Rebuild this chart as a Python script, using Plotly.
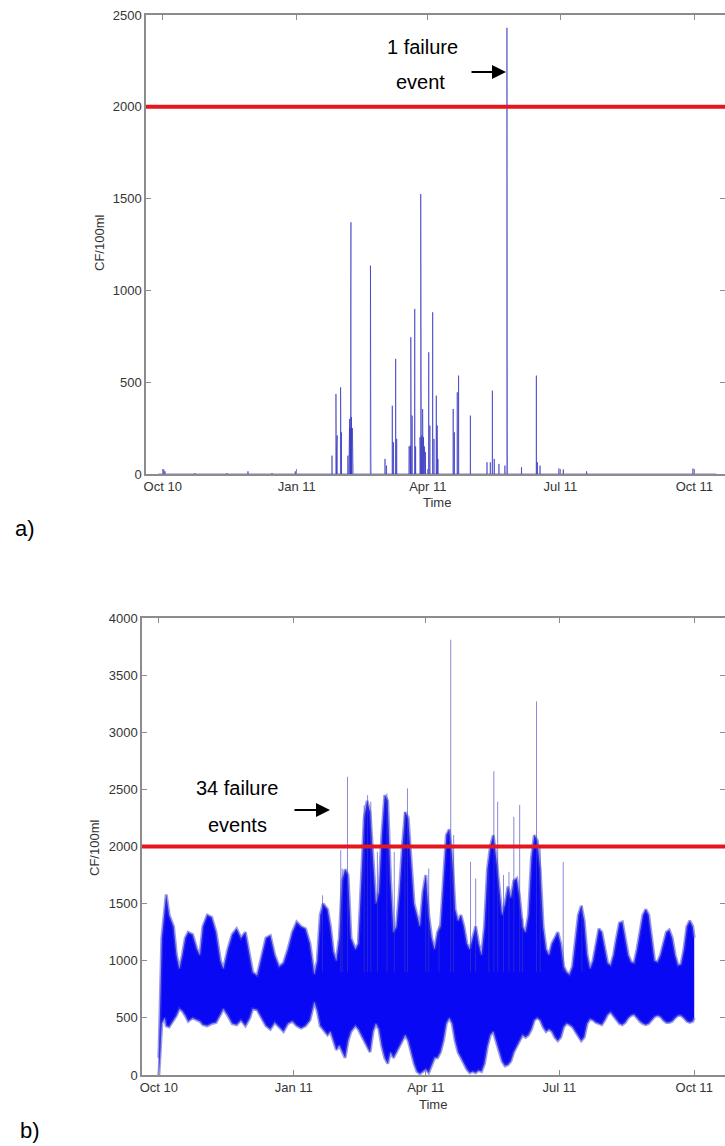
import pandas as pd
import plotly.graph_objects as go

START = pd.Timestamp("2010-10-01")
THRESHOLD = 2000
FONT = "Arial, Liberation Sans, sans-serif"

tick_dates = ["2010-10-01", "2011-01-01", "2011-04-01", "2011-07-01", "2011-10-01"]
tick_labels = ["Oct 10", "Jan 11", "Apr 11", "Jul 11", "Oct 11"]

# ---- a) top panel: impulses (days after 1 Oct 2010, CF/100ml)
top_spike_days = [0.7, 1.5, 22, 44, 58.5, 75, 91,
                  116.2, 118.9, 119.4, 119.8, 122.1, 122.6, 127.1, 127.8, 128.3, 128.6,
                  129.0, 129.2, 129.5, 130.2, 130.6, 142.6, 142.9, 152.6, 153.6,
                  157.6, 158.4, 159.9, 160.6, 169.0, 169.5, 169.9, 170.3, 170.6, 171.2,
                  173.0, 173.6, 176.6, 177.1, 177.3, 177.8, 178.4, 179.0, 179.6, 180.3,
                  182.6, 183.4, 185.3, 186.2, 187.8, 188.4, 188.9, 199.4, 200.2, 202.2,
                  203.1, 211.2, 222.6, 224.9, 226.3, 227.6, 230.8, 234.9, 236.3, 236.6,
                  246.3, 256.5, 257.2, 259.0, 272, 275, 291, 364]
top_spike_vals = [25, 15, 5, 5, 15, 5, 15,
                  100, 436, 150, 210, 472, 227, 100, 280, 300, 250,
                  917, 1371, 310, 250, 155, 1135, 155, 82, 46,
                  372, 173, 627, 191, 150, 140, 155, 745, 150, 318,
                  899, 150, 200, 1525, 1060, 209, 354, 200, 150, 120,
                  663, 264, 881, 191, 427, 264, 82, 354, 227, 445,
                  536, 318, 64, 64, 454, 82, 55, 46, 2430, 264,
                  37, 536, 64, 46, 30, 25, 15, 30]

# ---- b) bottom panel: envelope of the dense series (days after 1 Oct 2010)
bot_days = [0, 1, 2, 4, 5, 7, 10, 12, 14, 16, 18, 20, 23, 26, 28, 30, 33, 36, 39, 42,
            44, 47, 50, 53, 56, 59, 62, 64, 67, 70, 73, 76, 79, 82, 85, 88, 91, 94, 97, 100,
            103, 106, 108, 110, 112, 115, 117, 119, 121, 123, 125, 127, 129, 131, 134, 136,
            138, 140, 142, 144, 146, 148, 150, 152, 154, 156, 158, 160, 162, 164, 166, 168,
            170, 172, 174, 176, 178, 180, 182, 184, 186, 188, 190, 192, 194, 196, 198, 200,
            202, 204, 206, 208, 210, 212, 214, 216, 218, 220, 222, 224, 226, 228, 230, 232,
            234, 236, 238, 240, 242, 244, 246, 248, 250, 252, 254, 256, 258, 260, 262, 264,
            266, 268, 270, 272, 274, 276, 278, 280, 282, 284, 286, 288, 290, 292, 294, 296,
            298, 300, 302, 304, 306, 308, 310, 312, 314, 316, 318, 320, 322, 324, 326, 328,
            330, 332, 334, 336, 338, 340, 342, 344, 346, 348, 350, 352, 354, 356, 358, 360,
            362, 364, 365]
bot_hi = [150, 700, 1200, 1450, 1580, 1400, 1300, 1050, 930, 1050, 1200, 1250, 1230, 1100, 1050,
          1300, 1400, 1380, 1250, 1000,
          930, 1100, 1230, 1280, 1200, 1250, 1050, 900, 870, 1050, 1200, 1220, 1050, 950, 980,
          1100, 1250, 1340, 1300, 1280,
          1150, 880, 1000, 1400, 1500, 1450, 1300, 1080, 1000, 1200, 1700, 1800, 1750, 1200,
          1100, 1150,
          1700, 2250, 2400, 2300, 1900, 1500, 1600, 2100, 2450, 2400, 1700, 1250, 1300, 1600,
          2000, 2300,
          2250, 1900, 1500, 1400, 1300, 1600, 1750, 1400, 1200, 1100, 1250, 1300, 1700, 2100,
          2150, 1900,
          1450, 1350, 1400, 1300, 1150, 1100, 1200, 1300, 1150, 1050, 1300, 1800, 2000, 2100,
          1900, 1650,
          1400, 1500, 1650, 1550, 1700, 1720, 1550, 1300, 1250, 1400, 1900, 2100, 2050, 1800,
          1300, 1100,
          1050, 1150, 1200, 1250, 1150, 950, 900, 880, 950, 1150, 1400, 1480, 1350, 1050,
          930, 1000,
          1150, 1280, 1250, 1100, 980, 960, 1050, 1200, 1330, 1340, 1200, 1050, 990, 980,
          1100, 1250,
          1400, 1450, 1400, 1200, 1000, 990, 1050, 1150, 1250, 1270, 1200, 1050, 960, 970,
          1100, 1300,
          1350, 1300, 1200]
bot_lo = [0, 200, 450, 500, 430, 420, 480, 520, 580, 560, 520, 470, 500, 480, 470,
          440, 430, 450, 460, 530,
          580, 520, 450, 440, 480, 430, 500, 580, 570, 500, 430, 400, 460, 420, 380,
          450, 470, 430, 410, 430,
          480, 640, 560, 430, 400, 350, 380, 300, 220, 260, 200, 150, 300, 380,
          430, 400,
          350, 300, 250, 200, 380, 450, 400, 250, 150, 100, 200, 150, 200, 250,
          300, 350,
          300, 200, 100, 30, 10, 30, 50, 20, 80, 150, 150, 200, 300, 450,
          500, 450,
          300, 200, 150, 100, 50, 20, 30, 20, 40, 30, 100, 250, 350, 380,
          300, 200,
          120, 80, 90, 120, 200, 250, 300, 350, 330, 350, 400, 480, 500, 480,
          420, 380,
          400, 380, 330, 300, 330, 420, 450, 440, 420, 380, 330, 300, 330, 450,
          490, 480,
          460, 450, 440, 480, 530, 550, 520, 480, 450, 440, 460, 500, 520, 530,
          500, 470,
          450, 440, 450, 480, 510, 520, 510, 480, 460, 460, 470, 500, 520, 520,
          500, 470,
          460, 470, 500]

bot_spike_days = [111.6, 124, 125, 128.6, 140, 142.3, 144.5, 149, 155.5, 160.5, 167.7, 169.5,
                  182, 184, 191, 199, 201, 212.5, 216, 225, 228.4, 231, 235, 238.7, 242,
                  246, 248, 257.5, 260, 275.7, 288.4]
bot_spike_vals = [1573, 1968, 1807, 2610, 2362, 2450, 2392, 1953, 2465, 1953, 2304, 2509,
                  1660, 1807, 1310, 3810, 2100, 1865, 1720, 1807, 2660, 2392, 1750, 1778, 2260,
                  2363, 1368, 3270, 2012, 1865, 1485]
SPIKE_BASE = 900


def to_dates(days):
    return [START + pd.Timedelta(days=float(d)) for d in days]


# build impulse polyline for the top panel
tx, ty = [START + pd.Timedelta(days=-3)], [0]
for d, v in sorted(zip(top_spike_days, top_spike_vals)):
    tx += to_dates([d - 0.12, d, d + 0.12])
    ty += [0, v, 0]
tx.append(START + pd.Timedelta(days=380))
ty.append(0)

# spikes for the bottom panel
sx, sy = [], []
for d, v in zip(bot_spike_days, bot_spike_vals):
    dd = to_dates([d])[0]
    sx += [dd, dd, None]
    sy += [SPIKE_BASE, v, None]

bdates = to_dates(bot_days)

fig = go.Figure()
fig.add_trace(go.Scatter(x=tx, y=ty, mode="lines", xaxis="x", yaxis="y",
                         line=dict(color="rgba(40,40,190,0.6)", width=1), showlegend=False))
fig.add_trace(go.Scatter(x=bdates, y=bot_lo, mode="lines", xaxis="x2", yaxis="y2",
                         line=dict(color="rgba(70,70,215,0.55)", width=3), showlegend=False))
fig.add_trace(go.Scatter(x=bdates, y=bot_hi, mode="lines", xaxis="x2", yaxis="y2",
                         fill="tonexty", fillcolor="rgb(8,8,245)",
                         line=dict(color="rgba(70,70,215,0.55)", width=3), showlegend=False))
fig.add_trace(go.Scatter(x=sx, y=sy, mode="lines", xaxis="x2", yaxis="y2",
                         line=dict(color="rgba(60,60,190,0.6)", width=1), showlegend=False))

# threshold lines
for ya in ["y", "y2"]:
    xa = "x" if ya == "y" else "x2"
    fig.add_shape(type="line", xref=f"{xa} domain", yref=ya, x0=0, x1=1,
                  y0=THRESHOLD, y1=THRESHOLD, line=dict(color="rgb(228,22,30)", width=4))

W, H = 725, 1146
xrange_ = [START + pd.Timedelta(days=-11.5), START + pd.Timedelta(days=386)]
axis_common = dict(showline=True, linecolor="#8c8c8c", linewidth=1.5, mirror="ticks",
                   ticks="inside", ticklen=5, tickcolor="#8c8c8c", showgrid=False,
                   zeroline=False, automargin=False,
                   tickfont=dict(family=FONT, size=13, color="#353535"))

fig.update_layout(
    width=W, height=H, margin=dict(l=0, r=0, t=0, b=0),
    paper_bgcolor="white", plot_bgcolor="white",
    font=dict(family=FONT, color="black"),
    xaxis=dict(domain=[146 / W, 1], anchor="y", type="date", range=xrange_,
               tickvals=tick_dates, ticktext=tick_labels, **axis_common),
    yaxis=dict(domain=[1 - 474 / H, 1 - 15 / H], anchor="x", range=[0, 2500],
               tickvals=[0, 500, 1000, 1500, 2000, 2500], **axis_common),
    xaxis2=dict(domain=[142 / W, 1], anchor="y2", type="date", range=xrange_,
                tickvals=tick_dates, ticktext=tick_labels, **axis_common),
    yaxis2=dict(domain=[1 - 1075 / H, 1 - 618 / H], anchor="x2", range=[0, 4000],
                tickvals=[0, 500, 1000, 1500, 2000, 2500, 3000, 3500, 4000], **axis_common),
)

def txt(x, y, s, size, angle=0, color="black"):
    fig.add_annotation(xref="paper", yref="paper", x=x / W, y=1 - y / H, text=s,
                       showarrow=False, textangle=angle, xanchor="center", yanchor="middle",
                       font=dict(family=FONT, size=size, color=color))

txt(422, 47, "1 failure", 20)
txt(420, 82, "event", 20)
txt(237, 788, "34 failure", 20)
txt(237, 825, "events", 20)
txt(25, 528, "a)", 22)
txt(30, 1130, "b)", 22)
txt(437, 503, "Time", 13, color="#353535")
txt(433, 1104, "Time", 13, color="#353535")
txt(100, 243, "CF/100ml", 13, angle=-90, color="#353535")
txt(94, 848, "CF/100ml", 13, angle=-90, color="#353535")

for tipx, y, ax in [(506, 72, -36), (330, 810, -37)]:
    fig.add_annotation(xref="paper", yref="paper", x=tipx / W, y=1 - y / H, ax=ax, ay=0,
                       axref="pixel", ayref="pixel", text="", showarrow=True,
                       arrowhead=2, arrowsize=1.4, arrowwidth=2, arrowcolor="black")

fig.write_html("out.html", config={"displayModeBar": False},
               post_script="document.body.style.margin='0px';"
                           "document.body.style.overflow='hidden';")
